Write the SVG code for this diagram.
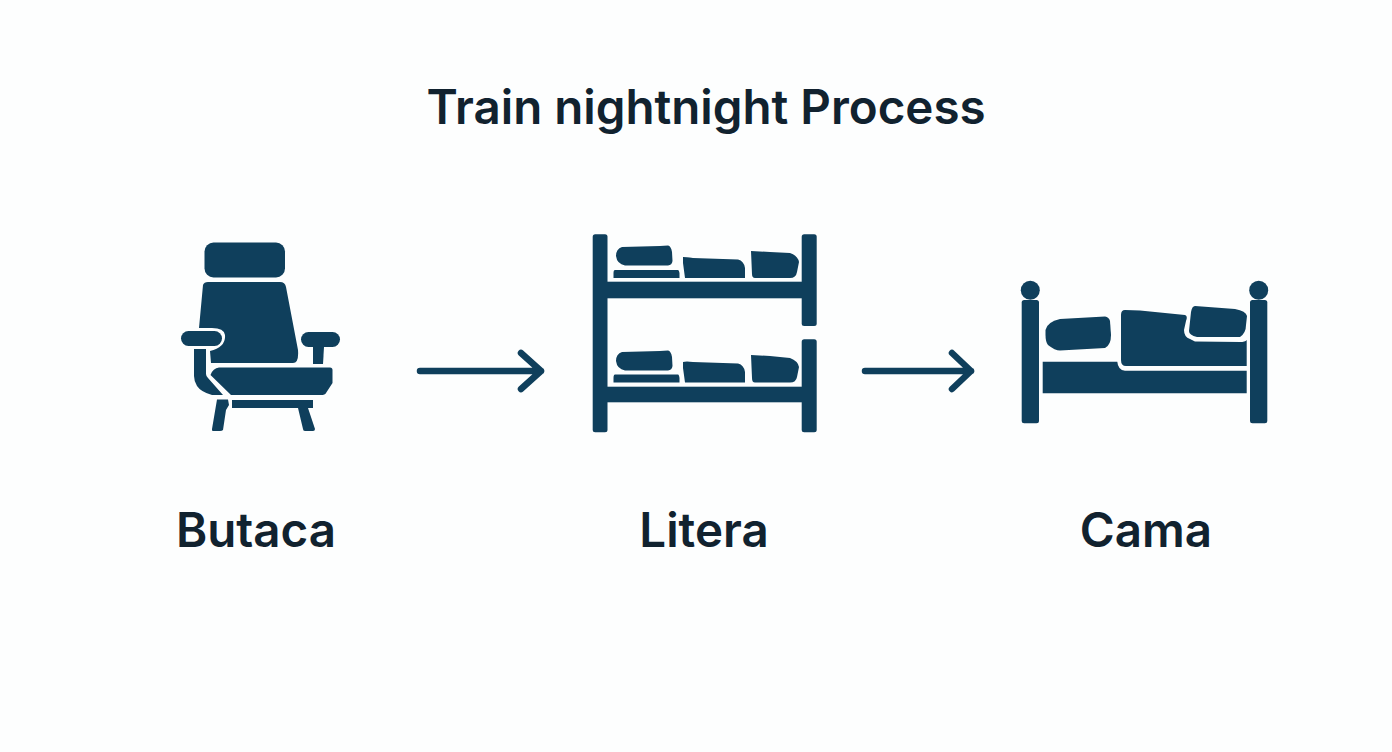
<svg xmlns="http://www.w3.org/2000/svg" width="1392" height="752" viewBox="0 0 1392 752">
<style>
.t{font-family:"Inter","Noto Sans","Liberation Sans",sans-serif;font-weight:600;fill:#11222f;text-anchor:middle;font-size:47.500px}
.i{fill:#0f3f5c}
.c{fill:none;stroke:#0f3f5c;stroke-width:6.500;stroke-linecap:round;stroke-linejoin:round}
</style>
<rect width="1392" height="752" fill="#fdfefe"/>
<text class="t" x="706" y="123.500">Train nightnight Process</text>
<g id="node-butaca">
<rect class="i" x="204.500" y="242.500" width="80.500" height="35" rx="9"/>
<path class="i" d="M203 285Q204 282 208 282H280Q285 282 286 287L298 350Q299 363 293 363H211L210 351Q226 347 225 335Q224 328 212 328H199Z"/>
<rect class="i" x="181" y="331" width="41" height="15" rx="7.500"/>
<rect class="i" x="301" y="332" width="39" height="15" rx="7.500"/>
<path class="i" d="M313 347H324L323 364H313Z"/>
<path class="i" d="M194 349H206V374Q206 376 208 378L223 395H212Q201 392 197 386Q194 381 194 376Z"/>
<path class="i" d="M219 367.500H330Q332.500 367.500 332.500 370V383L326 393Q325 395 321 395H231L210.500 375Q213 368 219 367.500Z"/>
<rect class="i" x="232" y="400" width="81" height="8"/>
<path class="i" d="M217 399.500H228L229 405L226 410L223 430Q222 431 220 431H213Q211.500 431 212 429Z"/>
<path class="i" d="M298 408H308L315 429Q315 431 313 431H305Q303 431 303 429Z"/>
</g>
<g id="node-litera">
<rect class="i" x="592.700" y="234.300" width="14.800" height="198" rx="2.500"/>
<rect class="i" x="801.700" y="234.300" width="15" height="91.700" rx="2.500"/>
<rect class="i" x="801.700" y="339.300" width="15" height="93" rx="2.500"/>
<rect class="i" x="607" y="281.700" width="195" height="16.600"/>
<rect class="i" x="607" y="386.700" width="195" height="15.600"/>
<path id="bunk-top-items" class="i" d="M622 247L660 246L668 245.500Q671 246 672 252L672.500 261Q672 265 668 265.500H625Q617 264 616 256Q616 249 622 247ZM615 270H678Q679 270 679.500 273V278H613.500V273Q613.500 270 615 270ZM683 257Q686 257 693 258L738 259.500Q744 261 745 268V278H685L683 263ZM751 251L770 252L790 253Q798 256 799 262L797 272Q796 278 790 278H755Q752 278 752 274Z"/>
<path id="bunk-low-items" class="i" d="M622 352L660 351L668 350.500Q671 351 672 357L672.500 366Q672 370 668 370.500H625Q617 369 616 361Q616 354 622 352ZM615 374.500H678Q679 374.500 679.500 378V382.500H613.500V378Q613.500 374.500 615 374.500ZM683 362Q686 361 693 362L738 363.500Q744 365 745 372V382.500H685L683 368ZM751 355L770 356L790 358Q798 361 799 367L797 377Q796 382.500 790 382.500H755Q752 382.500 752 378Z"/>
</g>
<g id="node-cama">
<rect class="i" x="1021.700" y="300" width="17.300" height="123.300" rx="2.500"/>
<rect class="i" x="1250" y="300" width="17.300" height="123.300" rx="2.500"/>
<circle class="i" cx="1030.300" cy="290.300" r="9.500"/>
<circle class="i" cx="1258.700" cy="290.300" r="9.500"/>
<path class="i" d="M1042.700 361.700H1117.300Q1118 370 1125 370.700H1246.700V393.300H1042.700Z"/>
<path class="i" d="M1060 319L1105 316.500Q1109 317 1110 321L1111 335Q1111 345 1105 348L1060 350.500Q1055 350.500 1048 345Q1045.500 342 1045.500 335V330Q1047 322 1060 319Z"/>
<path class="i" d="M1125 310L1140 310.500L1185 315Q1188 316 1186 321L1184 330Q1184 337 1190 339L1195 341.500L1240 342Q1245 342 1246.700 340V366H1126Q1121 366 1121 360V315Q1121 310 1125 310Z"/>
<path class="i" d="M1195 306L1235 309Q1246 311 1247 316L1246 325Q1246 333 1240 337H1197Q1189 335 1189 331L1191 312Q1192 306 1195 306Z"/>
</g>
<g id="connectors">
<path class="c" d="M420 371H541M521 353L541 371L521 389"/>
<path class="c" d="M865 371H971M952 353L971 371L952 389"/>
</g>
<text class="t" x="256" y="546.500">Butaca</text>
<text class="t" x="704" y="546.500">Litera</text>
<text class="t" x="1146" y="546.500">Cama</text>
</svg>
